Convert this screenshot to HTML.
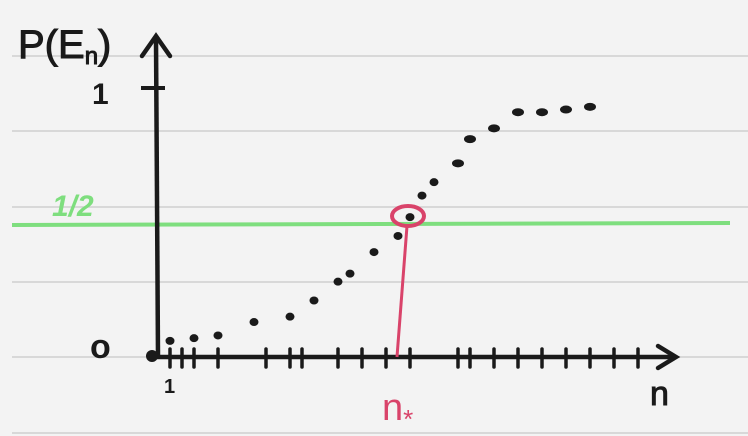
<!DOCTYPE html>
<html><head><meta charset="utf-8"><style>
html,body{margin:0;padding:0;background:#f3f3f3;}
svg{display:block}
text{font-family:"Liberation Sans",sans-serif;}
</style></head><body>
<svg width="748" height="436" viewBox="0 0 748 436">
<rect x="0" y="0" width="748" height="436" fill="#f3f3f3"/>
<g id="rules"></g>
<g id="ticks"></g>
<line x1="12" y1="225" x2="730" y2="223" stroke="#7ede7e" stroke-width="4"/>
<text x="52" y="216" fill="#7ede7e" font-size="30" font-weight="bold" font-style="italic">1/2</text>
<line x1="158" y1="357" x2="156" y2="40" stroke="#1a1a1a" stroke-width="4.5"/>
<polyline points="142,56 156,36 170,56" fill="none" stroke="#1a1a1a" stroke-width="4.5" stroke-linecap="round"/>
<line x1="150" y1="357" x2="672" y2="357" stroke="#1a1a1a" stroke-width="4.5"/>
<polyline points="658,346 676,357 658,368" fill="none" stroke="#1a1a1a" stroke-width="4.5" stroke-linecap="round"/>
<circle cx="152" cy="356" r="6" fill="#1a1a1a"/>
<line x1="141" y1="88" x2="165" y2="88" stroke="#1a1a1a" stroke-width="4"/>
<text x="92" y="104" font-size="30" font-weight="bold" fill="#1a1a1a">1</text>
<text x="90" y="358" font-size="34" font-weight="bold" fill="#1a1a1a">o</text>
<text x="164" y="393" font-size="20" font-weight="bold" fill="#1a1a1a">1</text>
<text x="18" y="58" font-size="40" fill="#1a1a1a" stroke="#1a1a1a" stroke-width="1">P(E<tspan font-size="24" dy="6">n</tspan><tspan dy="-6">)</tspan></text>
<text x="650" y="405" font-size="34" fill="#1a1a1a" stroke="#1a1a1a" stroke-width="1">n</text>
<line x1="407" y1="226" x2="397" y2="357" stroke="#d9436a" stroke-width="3"/>
<ellipse cx="408" cy="216" rx="16" ry="10" fill="none" stroke="#d9436a" stroke-width="4"/>
<text x="382" y="420" font-size="38" fill="#d9436a">n<tspan font-size="26" dy="8">*</tspan></text>
<g id="dots"></g>
</svg>
<script>
const nValues = [1,3,5,8,11,13,15,16,18,20,21,22,23,25,26,28,30,32,34,36];
const probValues = [0.06,0.07,0.08,0.13,0.15,0.21,0.28,0.31,0.39,0.45,0.52,0.60,0.65,0.72,0.81,0.85,0.91,0.91,0.92,0.93];
const tickN = [1,2,3,5,9,11,12,15,17,19,21,25,26,28,30,32,34,36,38,40];
const ruleYs = [56,131,207,282,357,433];
const NS='http://www.w3.org/2000/svg';
function xScale(n){return 158+12*n;}
function yScale(p){return 357-269*p;}
const rules=document.getElementById('rules');
ruleYs.forEach(y=>{const l=document.createElementNS(NS,'line');
l.setAttribute('x1',12);l.setAttribute('x2',748);l.setAttribute('y1',y);l.setAttribute('y2',y);
l.setAttribute('stroke','#cfcfcf');l.setAttribute('stroke-width','1.5');


rules.appendChild(l);});
const ticks=document.getElementById('ticks');
tickN.forEach(n=>{const l=document.createElementNS(NS,'line');const x=xScale(n);
l.setAttribute('x1',x);l.setAttribute('x2',x);l.setAttribute('y1',349);l.setAttribute('y2',367);
l.setAttribute('stroke','#1a1a1a');l.setAttribute('stroke-width','3.5');l.setAttribute('stroke-linecap','round');


ticks.appendChild(l);});
const dots=document.getElementById('dots');
nValues.forEach((n,i)=>{const c=document.createElementNS(NS,'ellipse');
const p=probValues[i];
c.setAttribute('cx',xScale(n));c.setAttribute('cy',yScale(p));
c.setAttribute('rx',p>0.7?6:4.5);c.setAttribute('ry',4);c.setAttribute('fill','#1a1a1a');


dots.appendChild(c);});
</script>
</body></html>
